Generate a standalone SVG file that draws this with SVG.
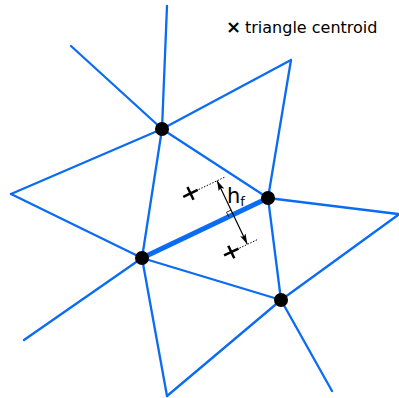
<svg xmlns="http://www.w3.org/2000/svg" width="399" height="398" viewBox="0 0 399 398">
<defs>
<style>
.e{stroke:#0a6cf2;stroke-width:2.3;fill:none;stroke-linecap:round}
.thick{stroke:#0a6cf2;stroke-width:5;fill:none}
.n{fill:#000}
.x{stroke:#000;stroke-width:2.5;stroke-linecap:butt}
.dot{stroke:#000;stroke-width:1;stroke-dasharray:1.5 1.5;fill:none}
.t{font-family:"DejaVu Sans",sans-serif;fill:#000}
</style>
<marker id="ah" viewBox="0 0 10 6" refX="10" refY="3" markerWidth="10" markerHeight="6" markerUnits="userSpaceOnUse" orient="auto-start-reverse">
<path d="M0,0 L10,3 L0,6 L2,3 Z" fill="#000"/>
</marker>
</defs>
<rect width="399" height="398" fill="#fff"/>
<g id="connectors">
<line class="e" x1="162" y1="129" x2="167" y2="6"/>
<line class="e" x1="162" y1="129" x2="71" y2="46"/>
<line class="e" x1="162" y1="129" x2="291" y2="60"/>
<line class="e" x1="291" y1="60" x2="268" y2="198"/>
<line class="e" x1="162" y1="129" x2="11" y2="194"/>
<line class="e" x1="11" y1="194" x2="142" y2="258"/>
<line class="e" x1="162" y1="129" x2="142" y2="258"/>
<line class="e" x1="162" y1="129" x2="268" y2="198"/>
<line class="e" x1="268" y1="198" x2="398" y2="214"/>
<line class="e" x1="268" y1="198" x2="281" y2="300"/>
<line class="e" x1="398" y1="215" x2="281" y2="300"/>
<line class="e" x1="142" y1="258" x2="24" y2="340"/>
<line class="e" x1="142" y1="258" x2="281" y2="300"/>
<line class="e" x1="142" y1="258" x2="167" y2="396"/>
<line class="e" x1="167" y1="396" x2="281" y2="300"/>
<line class="e" x1="281" y1="300" x2="332" y2="391"/>
<line id="face" class="thick" x1="142" y1="258" x2="268" y2="198"/>
</g>
<g id="nodes">
<g id="nA"><circle class="n" cx="162" cy="129" r="7"/></g>
<g id="nB"><circle class="n" cx="268" cy="198" r="7"/></g>
<g id="nC"><circle class="n" cx="142" cy="258" r="7"/></g>
<g id="nD"><circle class="n" cx="281" cy="300" r="7"/></g>
</g>
<g id="annotation">
<line class="dot" x1="190.5" y1="193.4" x2="225.2" y2="176.9"/>
<line class="dot" x1="231.3" y1="252" x2="258.2" y2="239.2"/>
<g id="g1" transform="translate(190.5,193.4) rotate(-25.5)">
<line class="x" x1="-8" y1="0" x2="8" y2="0"/>
<line class="x" x1="0" y1="-7" x2="0" y2="7"/>
</g>
<g id="g2" transform="translate(231.3,252) rotate(-25.5)">
<line class="x" x1="-8" y1="0" x2="8" y2="0"/>
<line class="x" x1="0" y1="-7" x2="0" y2="7"/>
</g>
<path d="M228.7,216.75 L226.5,212.2 L231.05,210.1" fill="none" stroke="#000" stroke-width="0.8"/>
<line x1="217.1" y1="180.7" x2="247.2" y2="243.9" stroke="#000" stroke-width="1.2" marker-start="url(#ah)" marker-end="url(#ah)"/>
<text class="t" x="227" y="202.5" font-size="21">h<tspan font-size="13" dy="3">f</tspan></text>
</g>
<g id="legend">
<text class="t" x="226" y="33" font-size="18" font-weight="bold">×</text>
<text class="t" x="245" y="33" font-size="16">triangle centroid</text>
</g>
</svg>
